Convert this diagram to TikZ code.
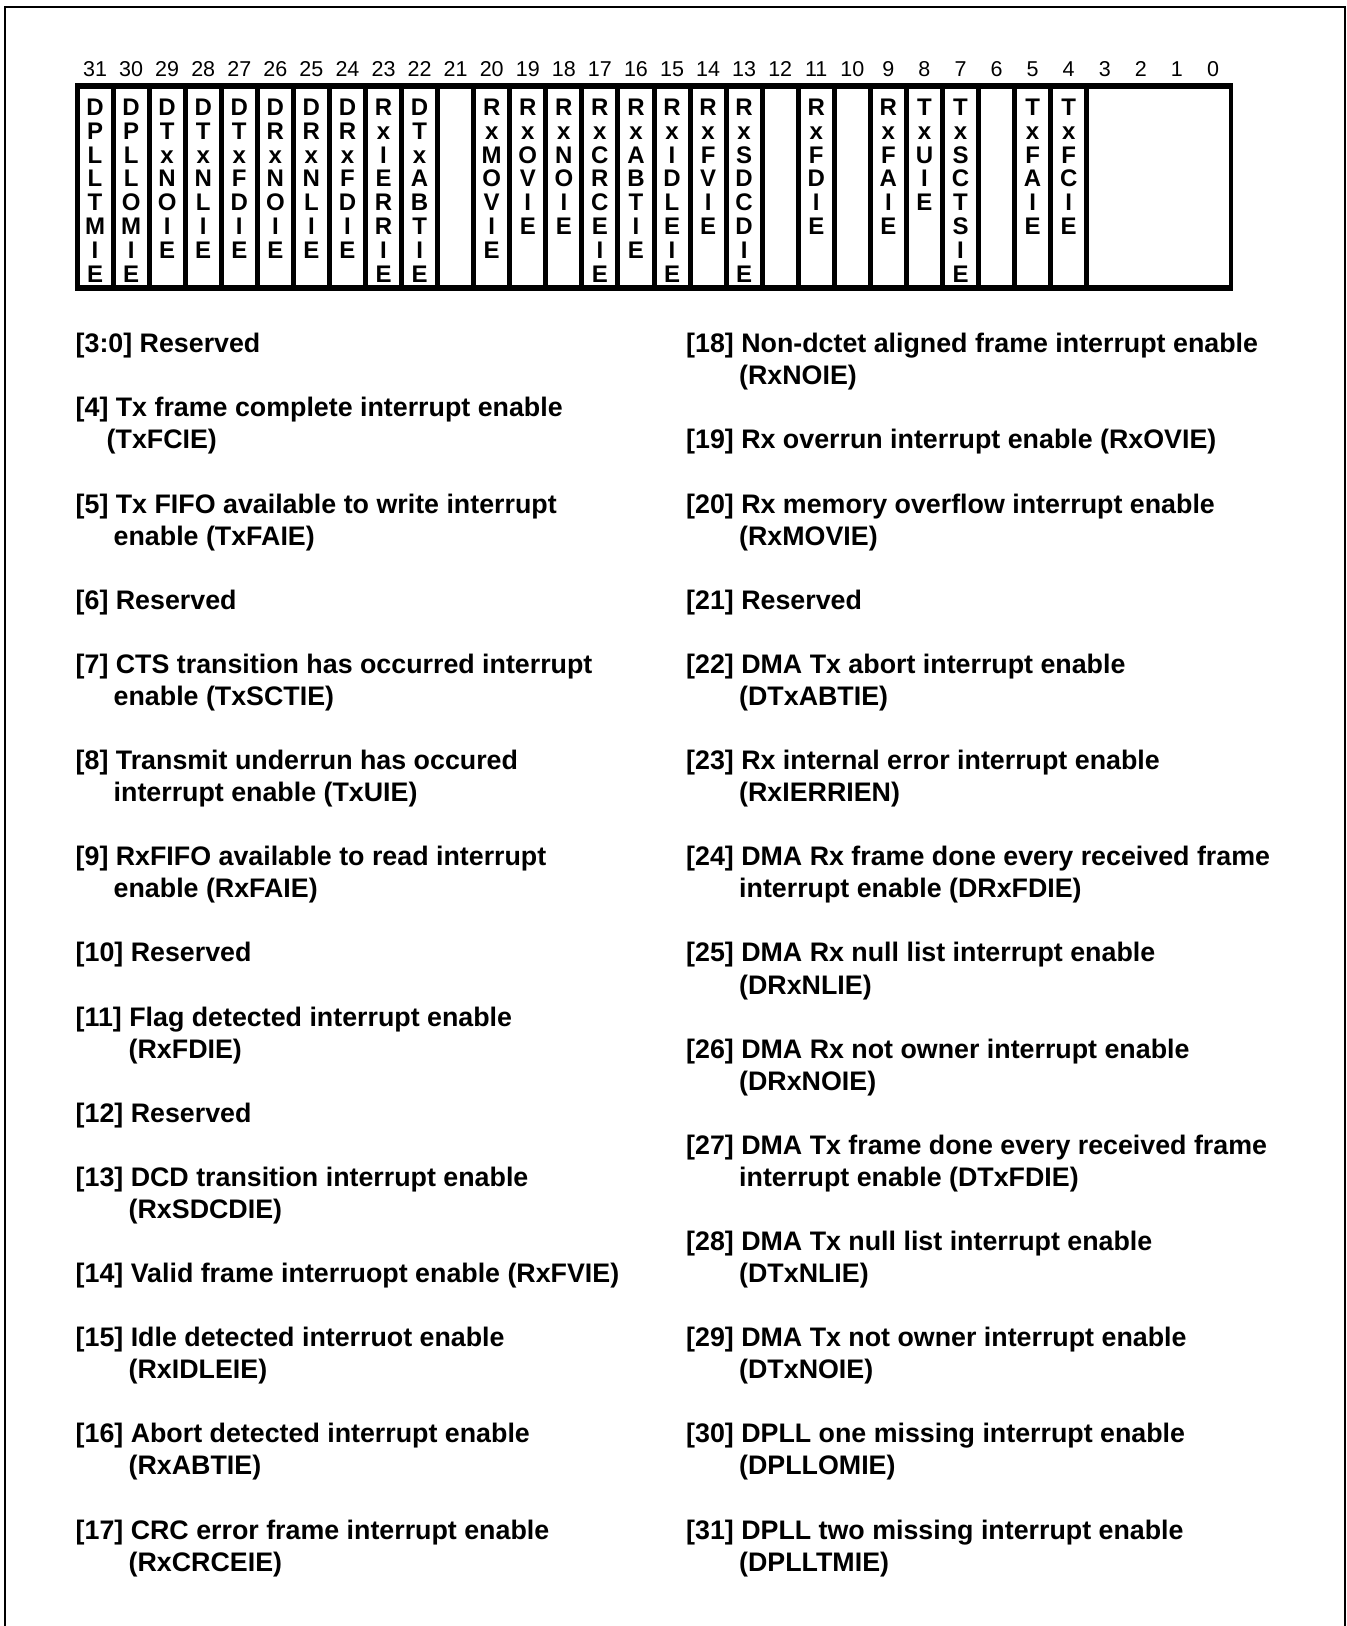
\documentclass[tikz,border=0pt]{standalone}
\usepackage{fontspec}
\setmainfont{Liberation Sans}
\begin{document}
\begin{tikzpicture}[x=1pt,y=-1pt,
  bitnum/.style={font=\fontsize{21.5}{24}\selectfont, inner sep=0pt, anchor=base},
  cellch/.style={font=\fontsize{24}{24}\selectfont\bfseries, inner sep=0pt, anchor=base},
  desc/.style={font=\fontsize{26.8}{32}\selectfont\bfseries, inner sep=0pt, anchor=base west},
  cellbox/.style={draw, line width=2.5pt},
  regbox/.style={draw, line width=4pt},
  frameline/.style={draw, line width=2pt}]
\useasboundingbox (0,0) rectangle (1347,1626);
% outer frame (open at the bottom)
\draw[frameline] (5,1626) -- (5,7) -- (1345,7) -- (1345,1626);
% register box
\draw[regbox] (77,85) rectangle (1231,289);
\foreach \b in {31,...,4}{
  \pgfmathsetmacro\xl{77+(31-\b)*36.0625}
  \draw[cellbox] ({\xl+1.25},88) rectangle ({\xl+36.0625-1.25},286);
}
\draw[cellbox] (1088.0,88) rectangle (1229.75,286);
% bit numbers
\foreach \b in {31,...,0}{
  \pgfmathsetmacro\xc{77+(31-\b)*36.0625+18.03}
  \node[bitnum] (n\b) at (\xc,76.5) {\b};
}
% field names, one letter per line
\foreach \b/\lst in {31/{D,P,L,L,T,M,I,E},30/{D,P,L,L,O,M,I,E},29/{D,T,x,N,O,I,E},28/{D,T,x,N,L,I,E},
  27/{D,T,x,F,D,I,E},26/{D,R,x,N,O,I,E},25/{D,R,x,N,L,I,E},24/{D,R,x,F,D,I,E},23/{R,x,I,E,R,R,I,E},
  22/{D,T,x,A,B,T,I,E},20/{R,x,M,O,V,I,E},19/{R,x,O,V,I,E},18/{R,x,N,O,I,E},17/{R,x,C,R,C,E,I,E},
  16/{R,x,A,B,T,I,E},15/{R,x,I,D,L,E,I,E},14/{R,x,F,V,I,E},13/{R,x,S,D,C,D,I,E},11/{R,x,F,D,I,E},
  9/{R,x,F,A,I,E},8/{T,x,U,I,E},7/{T,x,S,C,T,S,I,E},5/{T,x,F,A,I,E},4/{T,x,F,C,I,E}}{
  \pgfmathsetmacro\xc{77+(31-\b)*36.0625+18.03}
  \foreach \ch [count=\i from 0] in \lst {
    \node[cellch] (L\b x\i) at (\xc,{115.5+\i*23.8}) {\ch};
  }
}
% descriptions
\foreach \nm/\xx/\k/\txt in {
  d30/75.5/0/{[3:0] Reserved},
  d4a/75.5/2/{[4] Tx frame complete interrupt enable},
  d4b/106.5/3/{(TxFCIE)},
  d5a/75.5/5/{[5] Tx FIFO available to write interrupt},
  d5b/113.5/6/{enable (TxFAIE)},
  d6/75.5/8/{[6] Reserved},
  d7a/75.5/10/{[7] CTS transition has occurred interrupt},
  d7b/113.5/11/{enable (TxSCTIE)},
  d8a/75.5/13/{[8] Transmit underrun has occured},
  d8b/113.5/14/{interrupt enable (TxUIE)},
  d9a/75.5/16/{[9] RxFIFO available to read interrupt},
  d9b/113.5/17/{enable (RxFAIE)},
  d10/75.5/19/{[10] Reserved},
  d11a/75.5/21/{[11] Flag detected interrupt enable},
  d11b/128.5/22/{(RxFDIE)},
  d12/75.5/24/{[12] Reserved},
  d13a/75.5/26/{[13] DCD transition interrupt enable},
  d13b/128.5/27/{(RxSDCDIE)},
  d14/75.5/29/{[14] Valid frame interruopt enable (RxFVIE)},
  d15a/75.5/31/{[15] Idle detected interruot enable},
  d15b/128.5/32/{(RxIDLEIE)},
  d16a/75.5/34/{[16] Abort detected interrupt enable},
  d16b/128.5/35/{(RxABTIE)},
  d17a/75.5/37/{[17] CRC error frame interrupt enable},
  d17b/128.5/38/{(RxCRCEIE)},
  d18a/686/0/{[18] Non-dctet aligned frame interrupt enable},
  d18b/739/1/{(RxNOIE)},
  d19/686/3/{[19] Rx overrun interrupt enable (RxOVIE)},
  d20a/686/5/{[20] Rx memory overflow interrupt enable},
  d20b/739/6/{(RxMOVIE)},
  d21/686/8/{[21] Reserved},
  d22a/686/10/{[22] DMA Tx abort interrupt enable},
  d22b/739/11/{(DTxABTIE)},
  d23a/686/13/{[23] Rx internal error interrupt enable},
  d23b/739/14/{(RxIERRIEN)},
  d24a/686/16/{[24] DMA Rx frame done every received frame},
  d24b/739/17/{interrupt enable (DRxFDIE)},
  d25a/686/19/{[25] DMA Rx null list interrupt enable},
  d25b/739/20/{(DRxNLIE)},
  d26a/686/22/{[26] DMA Rx not owner interrupt enable},
  d26b/739/23/{(DRxNOIE)},
  d27a/686/25/{[27] DMA Tx frame done every received frame},
  d27b/739/26/{interrupt enable (DTxFDIE)},
  d28a/686/28/{[28] DMA Tx null list interrupt enable},
  d28b/739/29/{(DTxNLIE)},
  d29a/686/31/{[29] DMA Tx not owner interrupt enable},
  d29b/739/32/{(DTxNOIE)},
  d30a/686/34/{[30] DPLL one missing interrupt enable},
  d30b/739/35/{(DPLLOMIE)},
  d31a/686/37/{[31] DPLL two missing interrupt enable},
  d31b/739/38/{(DPLLTMIE)}}{
  \node[desc] (\nm) at (\xx,{352.8+32.06*\k}) {\txt};
}
\end{tikzpicture}
\end{document}
